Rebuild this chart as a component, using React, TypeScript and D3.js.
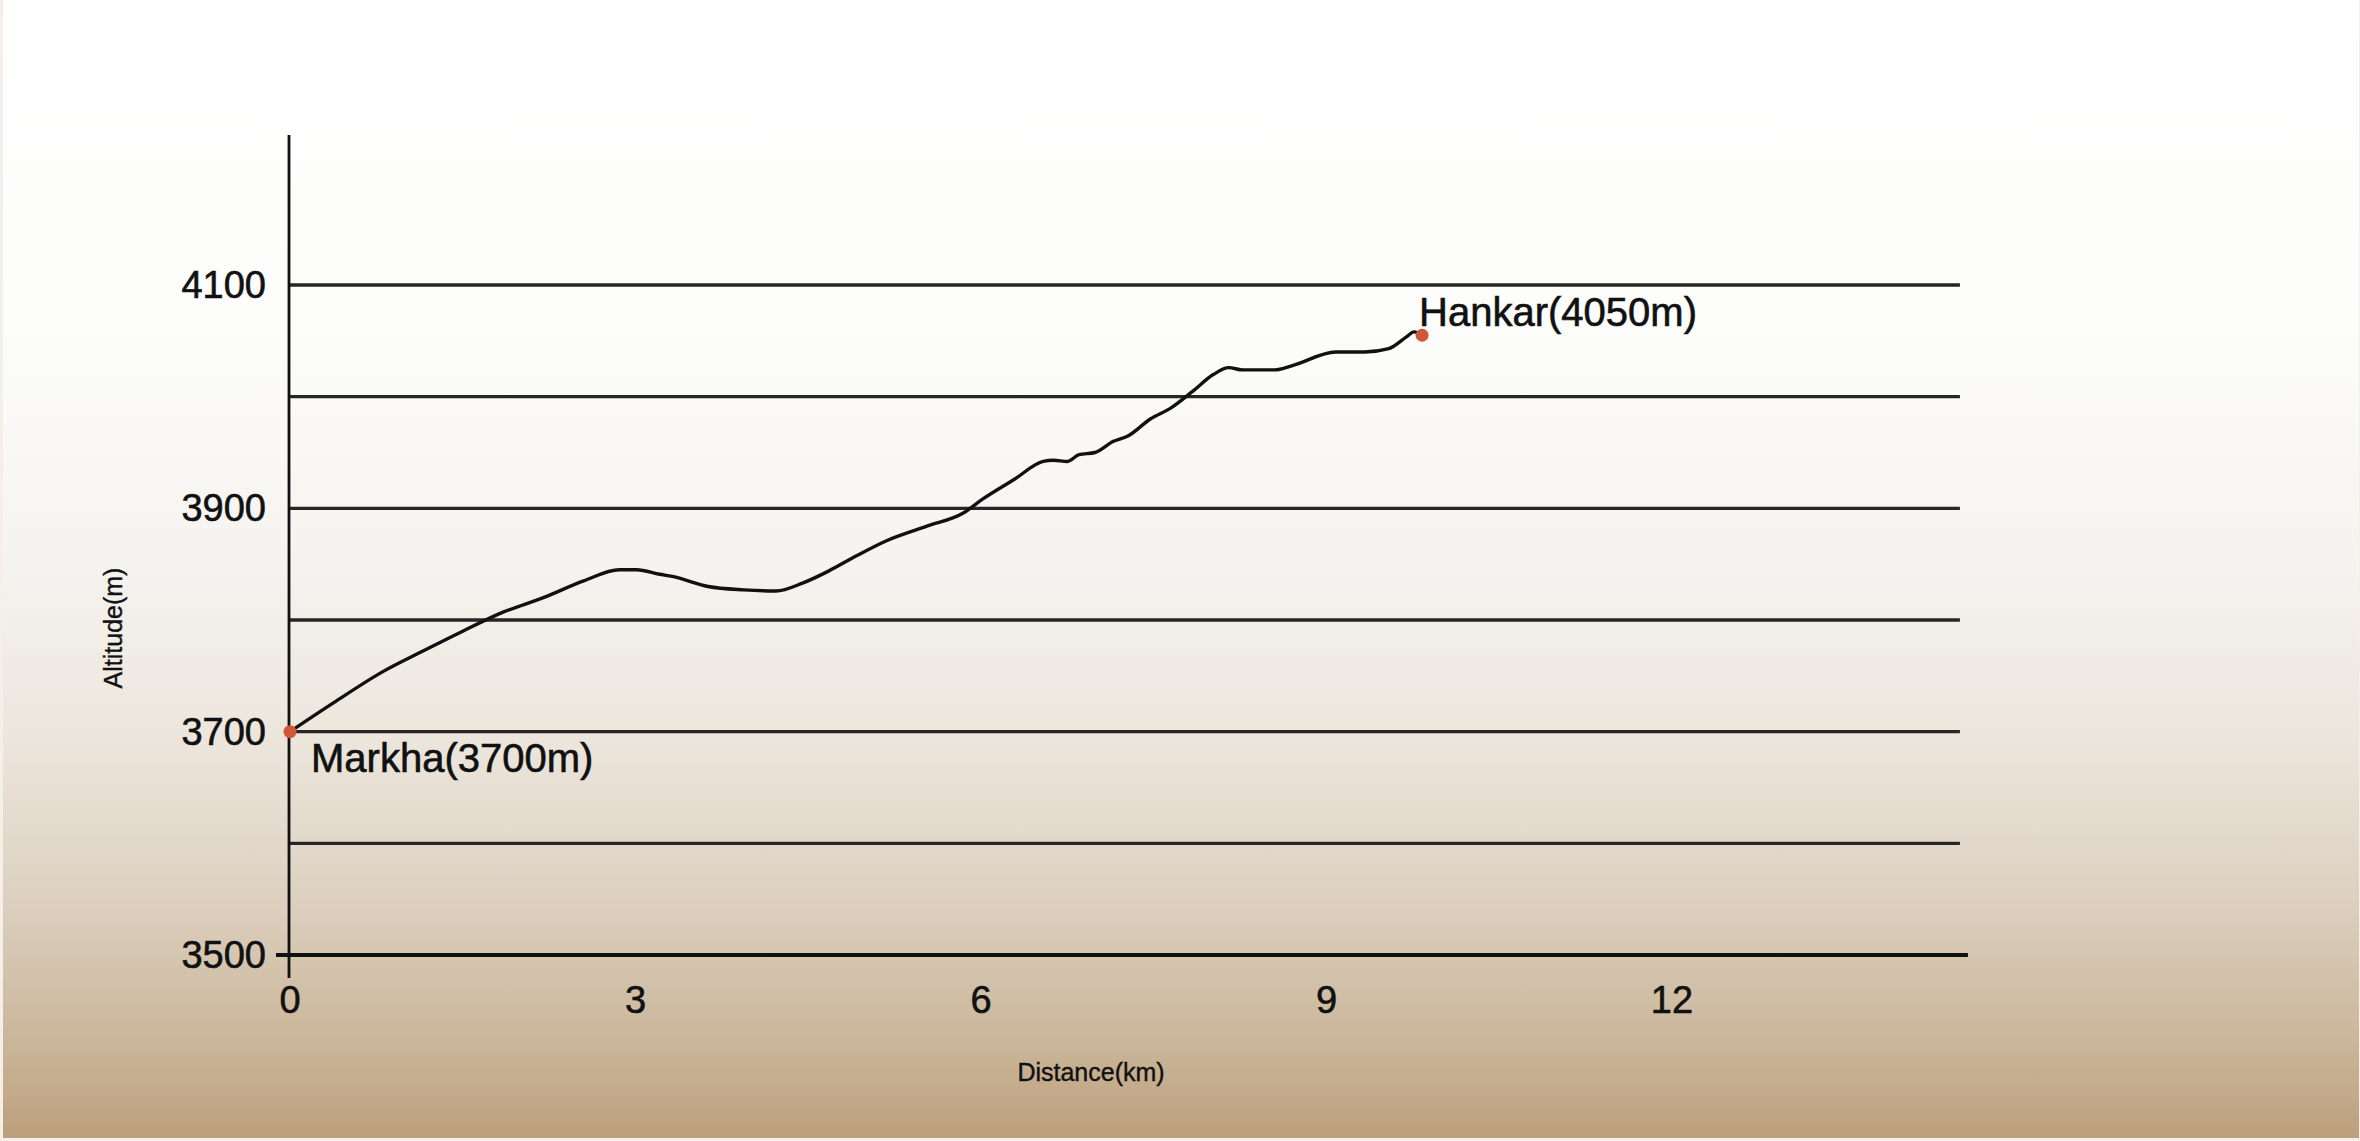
import { useMemo } from "react";
import * as d3 from "d3";

// ── Trail profile: Markha → Hankar ─────────────────────────

const distanceKm = [
  0, 0.38, 0.81, 1.15, 1.5, 1.85, 2.2, 2.55, 2.86, 3.01, 3.21, 3.32, 3.63,
  3.94, 4.22, 4.45, 4.68, 4.91, 5.18, 5.53, 5.85, 6.01, 6.29, 6.54, 6.63,
  6.75, 6.85, 6.99, 7.15, 7.28, 7.47, 7.65, 7.84, 8.02, 8.15, 8.27, 8.55,
  8.71, 9.08, 9.33, 9.54, 9.7, 9.76, 9.83,
];

const altitudeM = [
  3700, 3726, 3754, 3772, 3790, 3807, 3820, 3835, 3845, 3845, 3841, 3839, 3830,
  3827, 3826, 3833, 3844, 3857, 3871, 3884, 3896, 3908, 3926, 3942, 3943,
  3942, 3948, 3950, 3960, 3965, 3980, 3990, 4005, 4020, 4026, 4024, 4024,
  4028, 4040, 4040, 4043, 4054, 4058, 4055,
];

const stopNames = ["Markha(3700m)", "Hankar(4050m)"];
const stopKm = [0, 9.83];
const stopAlt = [3700, 4055];

const gridAlts = [3500, 3600, 3700, 3800, 3900, 4000, 4100];
const altTickLabels = [3500, 3700, 3900, 4100];
const distTicks = [0, 3, 6, 9, 12];

// ── Layout ─────────────────────────────────────────────────

const W = 2360;
const H = 1141;
const FONT = "'Liberation Sans', Arial, Helvetica, sans-serif";
const INK = "#111111";
const DOT = "#d0573a";

const textProps = {
  fontFamily: FONT,
  fill: INK,
  stroke: INK,
  strokeWidth: 0.6,
};

export default function App() {
  const x = useMemo(() => d3.scaleLinear().domain([0, 12]).range([290, 1672]), []);
  const y = useMemo(() => d3.scaleLinear().domain([3500, 4100]).range([955, 285]), []);

  const points = distanceKm.map((d, i) => [d, altitudeM[i]] as [number, number]);
  const line = d3
    .line<[number, number]>()
    .x((d) => x(d[0]))
    .y((d) => y(d[1]))
    .curve(d3.curveMonotoneX);

  const x0 = x(0);
  const gridEnd = x(14.5);

  return (
    <div>
      <style>{`body{margin:0;background:#fff}`}</style>
      <svg width={W} height={H} style={{ display: "block" }}>
        <defs>
          <linearGradient id="paper" x1="0" y1="0" x2="0" y2="1">
            <stop offset="0" stopColor="#ffffff" />
            <stop offset="0.3" stopColor="#fcfcfb" />
            <stop offset="0.5" stopColor="#f5f3ef" />
            <stop offset="0.66" stopColor="#ebe4da" />
            <stop offset="0.8" stopColor="#dbcebd" />
            <stop offset="0.92" stopColor="#c9b497" />
            <stop offset="1" stopColor="#bc9f7c" />
          </linearGradient>
        </defs>

        <rect x={0} y={0} width={W} height={H} fill="url(#paper)" />
        {/* thin light border along the photo edges */}
        <rect x={1.5} y={-2} width={W - 1} height={H + 0.5} fill="none" stroke="#f4efe8" strokeWidth={3} />

        {/* Horizontal grid lines */}
        {gridAlts.map((a) => (
          <line
            key={a}
            x1={a === 3500 ? x0 - 14 : x0}
            x2={a === 3500 ? gridEnd + 8 : gridEnd}
            y1={y(a)}
            y2={y(a)}
            stroke={a === 3500 ? INK : "#262626"}
            strokeWidth={a === 3500 ? 4 : 3.4}
          />
        ))}

        {/* Y axis */}
        <line x1={x0 - 1} x2={x0 - 1} y1={135} y2={978} stroke={INK} strokeWidth={2.8} />

        {/* Y tick labels */}
        {altTickLabels.map((a) => (
          <text
            key={a}
            x={x0 - 24}
            y={y(a)}
            textAnchor="end"
            dominantBaseline="central"
            fontSize={38}
            {...textProps}
          >
            {a}
          </text>
        ))}

        {/* X tick labels */}
        {distTicks.map((d) => (
          <text key={d} x={x(d)} y={1013} textAnchor="middle" fontSize={38} {...textProps}>
            {d}
          </text>
        ))}

        {/* Axis titles */}
        <text
          transform="translate(122,628) rotate(-90)"
          textAnchor="middle"
          fontSize={25}
          {...textProps}
          strokeWidth={0.4}
        >
          Altitude(m)
        </text>
        <text x={1091} y={1081} textAnchor="middle" fontSize={25} {...textProps} strokeWidth={0.4}>
          Distance(km)
        </text>

        {/* Elevation profile */}
        <path
          d={line(points) ?? ""}
          fill="none"
          stroke={INK}
          strokeWidth={3.4}
          strokeLinejoin="round"
          strokeLinecap="round"
        />

        {/* Stops */}
        {stopNames.map((name, i) => (
          <g key={name}>
            <circle cx={x(stopKm[i])} cy={y(stopAlt[i])} r={6.5} fill={DOT} />
            <text
              x={x(stopKm[i]) + (i === 0 ? 21 : -3)}
              y={y(stopAlt[i]) + (i === 0 ? 40 : -9)}
              fontSize={40}
              {...textProps}
            >
              {name}
            </text>
          </g>
        ))}
      </svg>
    </div>
  );
}
